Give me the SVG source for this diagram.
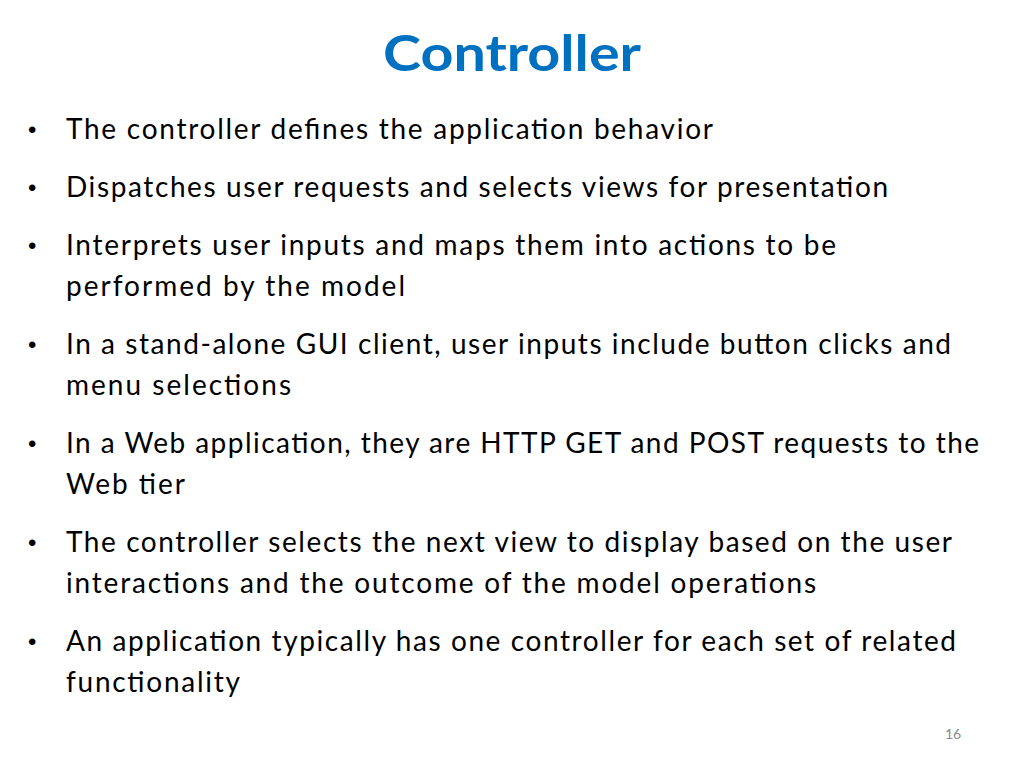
<svg xmlns="http://www.w3.org/2000/svg" width="1024" height="768" viewBox="0 0 1024 768">
<style>
.t{font-family:Lato,"Open Sans",sans-serif;font-size:28px;fill:#000}
.b{font-family:"Liberation Sans",Arial,sans-serif;font-size:24px;fill:#000}
</style>
<rect width="1024" height="768" fill="#fff"/>
<text x="512" y="71" text-anchor="middle" font-family="Lato,'Open Sans',sans-serif" font-weight="bold" font-size="50" fill="#0070C0" textLength="258" lengthAdjust="spacingAndGlyphs">Controller</text>
<g class="b">
<text x="28" y="138">•</text><text x="28" y="196">•</text><text x="28" y="254">•</text><text x="28" y="353">•</text><text x="28" y="452">•</text><text x="28" y="551">•</text><text x="28" y="650">•</text>
</g>
<g class="t" lengthAdjust="spacingAndGlyphs">
<text x="66" y="139" textLength="647">The controller defines the application behavior</text>
<text x="66" y="197" textLength="822">Dispatches user requests and selects views for presentation</text>
<text x="66" y="255" textLength="770">Interprets user inputs and maps them into actions to be</text>
<text x="66" y="296" textLength="339">performed by the model</text>
<text x="66" y="354" textLength="885">In a stand-alone GUI client, user inputs include button clicks and</text>
<text x="66" y="395" textLength="225">menu selections</text>
<text x="66" y="453" textLength="913">In a Web application, they are HTTP GET and POST requests to the</text>
<text x="66" y="494" textLength="119">Web tier</text>
<text x="66" y="552" textLength="886">The controller selects the next view to display based on the user</text>
<text x="66" y="593" textLength="750">interactions and the outcome of the model operations</text>
<text x="66" y="651" textLength="890">An application typically has one controller for each set of related</text>
<text x="66" y="692" textLength="174">functionality</text>
</g>
<text x="953" y="739" text-anchor="middle" font-family="Lato,sans-serif" font-size="14" fill="#8a8a8a">16</text>
</svg>
